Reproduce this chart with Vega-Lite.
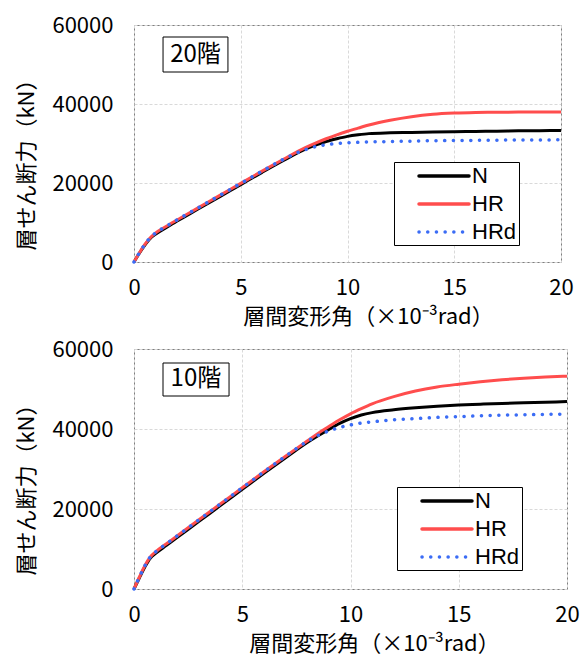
{
  "$schema": "https://vega.github.io/schema/vega-lite/v6.json",
  "background": "white",
  "padding": {"left": 15, "top": 13, "right": 10, "bottom": 5},
  "spacing": 9,
  "config": {
    "font": "Noto Sans CJK JP",
    "view": {"stroke": "#7f7f7f", "strokeWidth": 1},
    "axis": {
      "labelFont": "Noto Sans CJK JP",
      "titleFont": "Noto Sans CJK JP",
      "labelFontSize": 22,
      "titleFontSize": 22,
      "labelColor": "#000000",
      "titleColor": "#000000",
      "titleFontWeight": "normal",
      "labelFlush": false,
      "domain": false,
      "ticks": false,
      "tickSize": 0,
      "grid": true,
      "gridColor": "#d9d9d9",
      "gridDash": [3, 2],
      "gridWidth": 1
    },
    "legend": {
      "labelFont": "Liberation Sans",
      "labelFontSize": 22,
      "labelColor": "#000000",
      "strokeColor": "#000000",
      "fillColor": "#ffffff",
      "padding": 2,
      "rowPadding": 5,
      "symbolType": "M-2.5,0H2.5",
      "symbolSize": 400,
      "symbolStrokeWidth": 3.5,
      "symbolOffset": 36,
      "labelOffset": 16,
      "orient": "none"
    }
  },
  "datasets": {
    "curves": [
      {"panel":"20","series":"N","x":0,"y":0},{"panel":"20","series":"N","x":0.25,"y":2200},{"panel":"20","series":"N","x":0.5,"y":4200},{"panel":"20","series":"N","x":0.75,"y":5900},{"panel":"20","series":"N","x":1,"y":7000},{"panel":"20","series":"N","x":1.5,"y":8700},{"panel":"20","series":"N","x":2,"y":10300},{"panel":"20","series":"N","x":3,"y":13400},{"panel":"20","series":"N","x":4,"y":16500},{"panel":"20","series":"N","x":5,"y":19600},{"panel":"20","series":"N","x":6,"y":22700},{"panel":"20","series":"N","x":7,"y":25700},{"panel":"20","series":"N","x":8,"y":28500},{"panel":"20","series":"N","x":8.5,"y":29600},{"panel":"20","series":"N","x":9,"y":30500},{"panel":"20","series":"N","x":9.5,"y":31200},{"panel":"20","series":"N","x":10,"y":31800},{"panel":"20","series":"N","x":10.5,"y":32200},{"panel":"20","series":"N","x":11,"y":32500},{"panel":"20","series":"N","x":12,"y":32700},{"panel":"20","series":"N","x":13,"y":32800},{"panel":"20","series":"N","x":14,"y":32900},{"panel":"20","series":"N","x":15,"y":33000},{"panel":"20","series":"N","x":16,"y":33050},{"panel":"20","series":"N","x":17,"y":33100},{"panel":"20","series":"N","x":18,"y":33200},{"panel":"20","series":"N","x":19,"y":33250},{"panel":"20","series":"N","x":20,"y":33300},
      {"panel":"20","series":"HR","x":0,"y":0},{"panel":"20","series":"HR","x":0.25,"y":2300},{"panel":"20","series":"HR","x":0.5,"y":4400},{"panel":"20","series":"HR","x":0.75,"y":6100},{"panel":"20","series":"HR","x":1,"y":7300},{"panel":"20","series":"HR","x":1.5,"y":9000},{"panel":"20","series":"HR","x":2,"y":10600},{"panel":"20","series":"HR","x":3,"y":13700},{"panel":"20","series":"HR","x":4,"y":16800},{"panel":"20","series":"HR","x":5,"y":19900},{"panel":"20","series":"HR","x":6,"y":23000},{"panel":"20","series":"HR","x":7,"y":26000},{"panel":"20","series":"HR","x":8,"y":28900},{"panel":"20","series":"HR","x":8.5,"y":30100},{"panel":"20","series":"HR","x":9,"y":31200},{"panel":"20","series":"HR","x":9.5,"y":32200},{"panel":"20","series":"HR","x":10,"y":33100},{"panel":"20","series":"HR","x":10.5,"y":33900},{"panel":"20","series":"HR","x":11,"y":34700},{"panel":"20","series":"HR","x":12,"y":35900},{"panel":"20","series":"HR","x":13,"y":36800},{"panel":"20","series":"HR","x":14,"y":37400},{"panel":"20","series":"HR","x":15,"y":37700},{"panel":"20","series":"HR","x":16,"y":37850},{"panel":"20","series":"HR","x":17,"y":37900},{"panel":"20","series":"HR","x":18,"y":37950},{"panel":"20","series":"HR","x":19,"y":38000},{"panel":"20","series":"HR","x":20,"y":38000},
      {"panel":"20","series":"HRd","x":0,"y":0},{"panel":"20","series":"HRd","x":0.25,"y":2300},{"panel":"20","series":"HRd","x":0.5,"y":4400},{"panel":"20","series":"HRd","x":0.75,"y":6100},{"panel":"20","series":"HRd","x":1,"y":7300},{"panel":"20","series":"HRd","x":1.5,"y":9000},{"panel":"20","series":"HRd","x":2,"y":10600},{"panel":"20","series":"HRd","x":3,"y":13700},{"panel":"20","series":"HRd","x":4,"y":16800},{"panel":"20","series":"HRd","x":5,"y":19900},{"panel":"20","series":"HRd","x":6,"y":23000},{"panel":"20","series":"HRd","x":7,"y":26000},{"panel":"20","series":"HRd","x":8,"y":28400},{"panel":"20","series":"HRd","x":8.5,"y":29200},{"panel":"20","series":"HRd","x":9,"y":29700},{"panel":"20","series":"HRd","x":9.5,"y":30000},{"panel":"20","series":"HRd","x":10,"y":30200},{"panel":"20","series":"HRd","x":10.5,"y":30300},{"panel":"20","series":"HRd","x":11,"y":30400},{"panel":"20","series":"HRd","x":12,"y":30500},{"panel":"20","series":"HRd","x":13,"y":30600},{"panel":"20","series":"HRd","x":14,"y":30700},{"panel":"20","series":"HRd","x":15,"y":30750},{"panel":"20","series":"HRd","x":16,"y":30800},{"panel":"20","series":"HRd","x":17,"y":30850},{"panel":"20","series":"HRd","x":18,"y":30900},{"panel":"20","series":"HRd","x":19,"y":30900},{"panel":"20","series":"HRd","x":20,"y":30950},
      {"panel":"10","series":"N","x":0,"y":0},{"panel":"10","series":"N","x":0.25,"y":2800},{"panel":"10","series":"N","x":0.5,"y":5500},{"panel":"10","series":"N","x":0.75,"y":7700},{"panel":"10","series":"N","x":1,"y":8900},{"panel":"10","series":"N","x":1.5,"y":10900},{"panel":"10","series":"N","x":2,"y":12900},{"panel":"10","series":"N","x":3,"y":16900},{"panel":"10","series":"N","x":4,"y":20900},{"panel":"10","series":"N","x":5,"y":24900},{"panel":"10","series":"N","x":6,"y":28900},{"panel":"10","series":"N","x":7,"y":32800},{"panel":"10","series":"N","x":8,"y":36600},{"panel":"10","series":"N","x":8.5,"y":38300},{"panel":"10","series":"N","x":9,"y":39900},{"panel":"10","series":"N","x":9.5,"y":41400},{"panel":"10","series":"N","x":10,"y":42600},{"panel":"10","series":"N","x":10.5,"y":43500},{"panel":"10","series":"N","x":11,"y":44100},{"panel":"10","series":"N","x":12,"y":44800},{"panel":"10","series":"N","x":13,"y":45300},{"panel":"10","series":"N","x":14,"y":45700},{"panel":"10","series":"N","x":15,"y":46000},{"panel":"10","series":"N","x":16,"y":46200},{"panel":"10","series":"N","x":17,"y":46400},{"panel":"10","series":"N","x":18,"y":46550},{"panel":"10","series":"N","x":19,"y":46700},{"panel":"10","series":"N","x":20,"y":46850},
      {"panel":"10","series":"HR","x":0,"y":0},{"panel":"10","series":"HR","x":0.25,"y":3000},{"panel":"10","series":"HR","x":0.5,"y":5800},{"panel":"10","series":"HR","x":0.75,"y":8000},{"panel":"10","series":"HR","x":1,"y":9300},{"panel":"10","series":"HR","x":1.5,"y":11300},{"panel":"10","series":"HR","x":2,"y":13300},{"panel":"10","series":"HR","x":3,"y":17300},{"panel":"10","series":"HR","x":4,"y":21300},{"panel":"10","series":"HR","x":5,"y":25300},{"panel":"10","series":"HR","x":6,"y":29300},{"panel":"10","series":"HR","x":7,"y":33200},{"panel":"10","series":"HR","x":8,"y":37000},{"panel":"10","series":"HR","x":8.5,"y":38900},{"panel":"10","series":"HR","x":9,"y":40600},{"panel":"10","series":"HR","x":9.5,"y":42300},{"panel":"10","series":"HR","x":10,"y":43800},{"panel":"10","series":"HR","x":10.5,"y":45100},{"panel":"10","series":"HR","x":11,"y":46300},{"panel":"10","series":"HR","x":12,"y":48100},{"panel":"10","series":"HR","x":13,"y":49500},{"panel":"10","series":"HR","x":14,"y":50500},{"panel":"10","series":"HR","x":15,"y":51200},{"panel":"10","series":"HR","x":16,"y":51800},{"panel":"10","series":"HR","x":17,"y":52300},{"panel":"10","series":"HR","x":18,"y":52700},{"panel":"10","series":"HR","x":19,"y":53000},{"panel":"10","series":"HR","x":20,"y":53200},
      {"panel":"10","series":"HRd","x":0,"y":0},{"panel":"10","series":"HRd","x":0.25,"y":3000},{"panel":"10","series":"HRd","x":0.5,"y":5800},{"panel":"10","series":"HRd","x":0.75,"y":8000},{"panel":"10","series":"HRd","x":1,"y":9300},{"panel":"10","series":"HRd","x":1.5,"y":11300},{"panel":"10","series":"HRd","x":2,"y":13300},{"panel":"10","series":"HRd","x":3,"y":17300},{"panel":"10","series":"HRd","x":4,"y":21300},{"panel":"10","series":"HRd","x":5,"y":25300},{"panel":"10","series":"HRd","x":6,"y":29300},{"panel":"10","series":"HRd","x":7,"y":33200},{"panel":"10","series":"HRd","x":8,"y":36900},{"panel":"10","series":"HRd","x":8.5,"y":38400},{"panel":"10","series":"HRd","x":9,"y":39500},{"panel":"10","series":"HRd","x":9.5,"y":40400},{"panel":"10","series":"HRd","x":10,"y":41000},{"panel":"10","series":"HRd","x":10.5,"y":41500},{"panel":"10","series":"HRd","x":11,"y":41800},{"panel":"10","series":"HRd","x":12,"y":42300},{"panel":"10","series":"HRd","x":13,"y":42600},{"panel":"10","series":"HRd","x":14,"y":42900},{"panel":"10","series":"HRd","x":15,"y":43100},{"panel":"10","series":"HRd","x":16,"y":43300},{"panel":"10","series":"HRd","x":17,"y":43450},{"panel":"10","series":"HRd","x":18,"y":43550},{"panel":"10","series":"HRd","x":19,"y":43650},{"panel":"10","series":"HRd","x":20,"y":43750}
    ],
    "tags": [{"panel": "20", "label": "20階"}, {"panel": "10", "label": "10階"}]
  },
  "vconcat": [
    {
      "width": 427,
      "height": 237,
      "layer": [
        {
          "data": {"name": "curves"},
          "transform": [{"filter": "datum.panel === '20'"}],
          "encoding": {
            "x": {"field": "x", "type": "quantitative", "scale": {"domain": [0, 20], "nice": false},
              "axis": {"values": [0, 5, 10, 15, 20], "labelPadding": 15, "title": "層間変形角（×10⁻³rad）", "titlePadding": 8, "titleX": 234}},
            "y": {"field": "y", "type": "quantitative", "scale": {"domain": [0, 60000], "nice": false},
              "axis": {"values": [0, 20000, 40000, 60000], "format": "d", "labelPadding": 21, "title": "層せん断力（kN）", "titlePadding": 13, "titleY": 134}},
            "color": {"field": "series", "type": "nominal", "scale": {"domain": ["N", "HR", "HRd"], "range": ["#000000", "#ff4d4d", "#3b6cf5"]},
              "legend": {"title": null, "legendX": 260, "legendY": 137, "labelExpr": "datum.label + '\u00a0\u00a0\u00a0\u00a0'",
                "encode": {"symbols": {"update": {"strokeCap": {"value": "round"}, "strokeDash": {"signal": "datum.value === 'HRd' ? [0.1, 8.6] : [1, 0]"}}}}}}
          },
          "layer": [
            {"transform": [{"filter": "datum.series === 'N'"}], "mark": {"type": "line", "strokeWidth": 3, "interpolate": "monotone"}},
            {"transform": [{"filter": "datum.series === 'HR'"}], "mark": {"type": "line", "strokeWidth": 3, "interpolate": "monotone"}},
            {"transform": [{"filter": "datum.series === 'HRd'"}], "mark": {"type": "line", "strokeWidth": 3.5, "strokeCap": "round", "strokeDash": [0.1, 8.6], "interpolate": "monotone"}}
          ]
        },
        {
          "data": {"name": "tags"},
          "transform": [{"filter": "datum.panel === '20'"}],
          "layer": [
            {"mark": {"type": "rect", "fill": "white", "stroke": "black", "strokeWidth": 1},
              "encoding": {"x": {"datum": 1.36, "type": "quantitative"}, "x2": {"datum": 4.4}, "y": {"datum": 56960, "type": "quantitative"}, "y2": {"datum": 48100}}},
            {"mark": {"type": "text", "fontSize": 24, "font": "Noto Sans CJK JP", "color": "black", "align": "center", "baseline": "middle"},
              "encoding": {"x": {"datum": 2.88, "type": "quantitative"}, "y": {"datum": 52530, "type": "quantitative"}, "text": {"field": "label"}}}
          ]
        }
      ]
    },
    {
      "width": 433,
      "height": 240,
      "layer": [
        {
          "data": {"name": "curves"},
          "transform": [{"filter": "datum.panel === '10'"}],
          "encoding": {
            "x": {"field": "x", "type": "quantitative", "scale": {"domain": [0, 20], "nice": false},
              "axis": {"values": [0, 5, 10, 15, 20], "labelPadding": 15, "title": "層間変形角（×10⁻³rad）", "titlePadding": 8, "titleX": 240}},
            "y": {"field": "y", "type": "quantitative", "scale": {"domain": [0, 60000], "nice": false},
              "axis": {"values": [0, 20000, 40000, 60000], "format": "d", "labelPadding": 21, "title": "層せん断力（kN）", "titlePadding": 13, "titleY": 135}},
            "color": {"field": "series", "type": "nominal", "scale": {"domain": ["N", "HR", "HRd"], "range": ["#000000", "#ff4d4d", "#3b6cf5"]},
              "legend": {"title": null, "legendX": 263, "legendY": 138, "labelExpr": "datum.label + '\u00a0\u00a0\u00a0\u00a0'",
                "encode": {"symbols": {"update": {"strokeCap": {"value": "round"}, "strokeDash": {"signal": "datum.value === 'HRd' ? [0.1, 8.6] : [1, 0]"}}}}}}
          },
          "layer": [
            {"transform": [{"filter": "datum.series === 'N'"}], "mark": {"type": "line", "strokeWidth": 3, "interpolate": "monotone"}},
            {"transform": [{"filter": "datum.series === 'HR'"}], "mark": {"type": "line", "strokeWidth": 3, "interpolate": "monotone"}},
            {"transform": [{"filter": "datum.series === 'HRd'"}], "mark": {"type": "line", "strokeWidth": 3.5, "strokeCap": "round", "strokeDash": [0.1, 8.6], "interpolate": "monotone"}}
          ]
        },
        {
          "data": {"name": "tags"},
          "transform": [{"filter": "datum.panel === '10'"}],
          "layer": [
            {"mark": {"type": "rect", "fill": "white", "stroke": "black", "strokeWidth": 1},
              "encoding": {"x": {"datum": 1.34, "type": "quantitative"}, "x2": {"datum": 4.39}, "y": {"datum": 56500, "type": "quantitative"}, "y2": {"datum": 48250}}},
            {"mark": {"type": "text", "fontSize": 24, "font": "Noto Sans CJK JP", "color": "black", "align": "center", "baseline": "middle"},
              "encoding": {"x": {"datum": 2.86, "type": "quantitative"}, "y": {"datum": 52400, "type": "quantitative"}, "text": {"field": "label"}}}
          ]
        }
      ]
    }
  ],
  "resolve": {"legend": {"color": "independent"}, "scale": {"color": "independent"}}
}
